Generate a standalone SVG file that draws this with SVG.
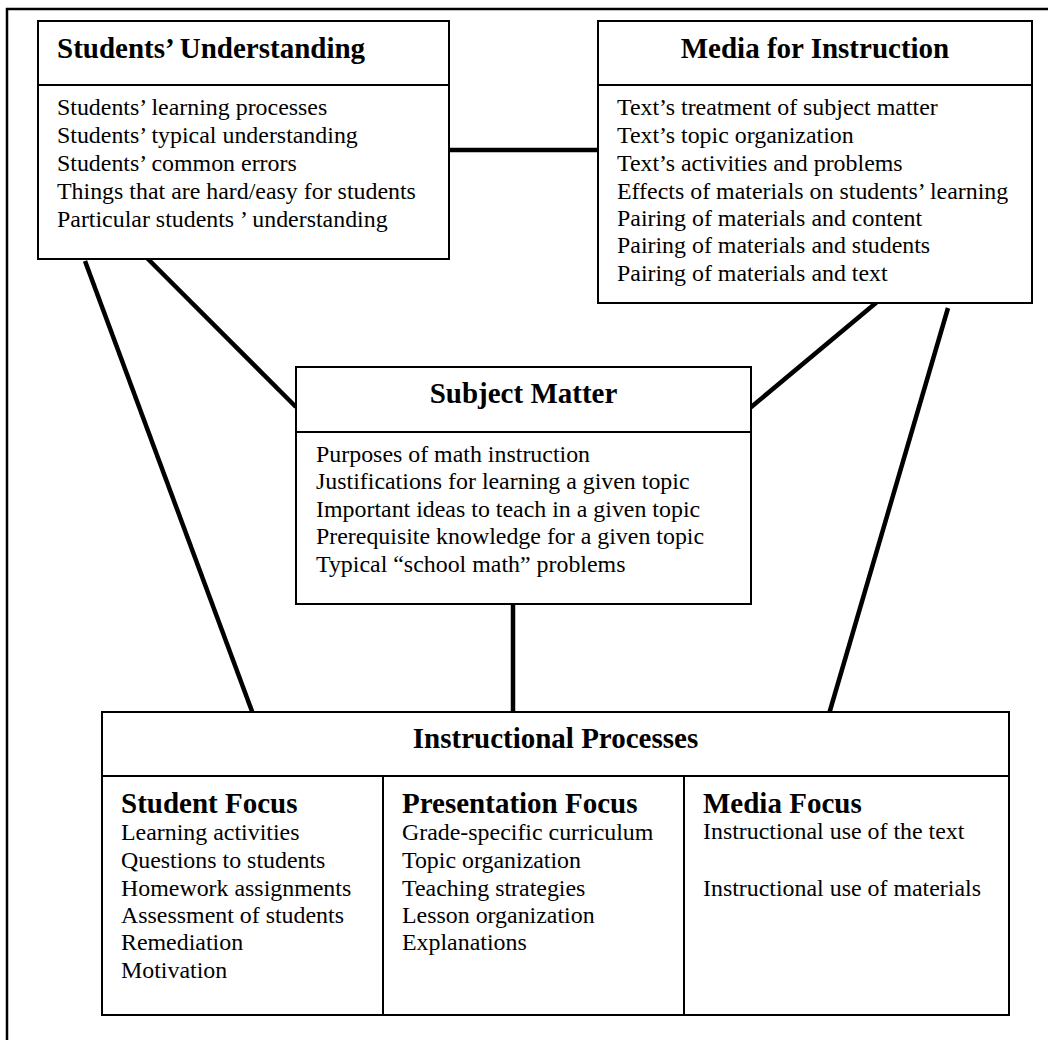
<svg xmlns="http://www.w3.org/2000/svg" width="1048" height="1040" viewBox="0 0 1048 1040">
  <style>
    .box { fill: #fff; stroke: #000; stroke-width: 2; }
    .rule { stroke: #000; stroke-width: 2; fill: none; }
    .link { stroke: #000; stroke-width: 4.5; fill: none; }
    .title { font-family: "Liberation Serif", "Times New Roman", serif; font-weight: bold; font-size: 29px; fill: #000; }
    .head { font-family: "Liberation Serif", "Times New Roman", serif; font-weight: bold; font-size: 29px; fill: #000; }
    .item { font-family: "Liberation Serif", "Times New Roman", serif; font-size: 23.9px; fill: #000; }
  </style>
  <rect width="1048" height="1040" fill="#fff"/>
  <!-- page frame (right and bottom edges run off the sheet) -->
  <rect x="7" y="9" width="1100" height="1100" fill="none" stroke="#000" stroke-width="2.5"/>

  <g id="connectors">
    <line class="link" x1="449" y1="150" x2="598" y2="150"/>
    <line class="link" x1="85" y1="261" x2="253" y2="714"/>
    <line class="link" x1="147" y1="258" x2="296" y2="407"/>
    <line class="link" x1="877" y1="302" x2="750" y2="408"/>
    <line class="link" x1="948" y1="308" x2="829" y2="714"/>
    <line class="link" x1="513" y1="604" x2="513" y2="712"/>
  </g>

  <g id="students-understanding">
    <rect class="box" x="38" y="21" width="411" height="238"/>
    <line class="rule" x1="38" y1="85" x2="449" y2="85"/>
    <text class="title" x="57" y="58">Students’ Understanding</text>
    <text class="item" x="57" y="115">Students’ learning processes</text>
    <text class="item" x="57" y="143">Students’ typical understanding</text>
    <text class="item" x="57" y="171">Students’ common errors</text>
    <text class="item" x="57" y="199">Things that are hard/easy for students</text>
    <text class="item" x="57" y="227">Particular students ’ understanding</text>
  </g>

  <g id="media-for-instruction">
    <rect class="box" x="598" y="21" width="434" height="282"/>
    <line class="rule" x1="598" y1="85" x2="1032" y2="85"/>
    <text class="title" x="815" y="58" text-anchor="middle">Media for Instruction</text>
    <text class="item" x="617" y="115">Text’s treatment of subject matter</text>
    <text class="item" x="617" y="143">Text’s topic organization</text>
    <text class="item" x="617" y="171">Text’s activities and problems</text>
    <text class="item" x="617" y="199">Effects of materials on students’ learning</text>
    <text class="item" x="617" y="226">Pairing of materials and content</text>
    <text class="item" x="617" y="253">Pairing of materials and students</text>
    <text class="item" x="617" y="281">Pairing of materials and text</text>
  </g>

  <g id="subject-matter">
    <rect class="box" x="296" y="367" width="455" height="237"/>
    <line class="rule" x1="296" y1="432" x2="751" y2="432"/>
    <text class="title" x="523.5" y="403" text-anchor="middle">Subject Matter</text>
    <text class="item" x="316" y="462">Purposes of math instruction</text>
    <text class="item" x="316" y="489">Justifications for learning a given topic</text>
    <text class="item" x="316" y="517">Important ideas to teach in a given topic</text>
    <text class="item" x="316" y="544">Prerequisite knowledge for a given topic</text>
    <text class="item" x="316" y="572">Typical “school math” problems</text>
  </g>

  <g id="instructional-processes">
    <rect class="box" x="102" y="712" width="907" height="303"/>
    <line class="rule" x1="102" y1="776" x2="1009" y2="776"/>
    <line class="rule" x1="383" y1="776" x2="383" y2="1015"/>
    <line class="rule" x1="684" y1="776" x2="684" y2="1015"/>
    <text class="title" x="555.5" y="748" text-anchor="middle">Instructional Processes</text>

    <text class="head" x="121" y="813">Student Focus</text>
    <text class="item" x="121" y="840">Learning activities</text>
    <text class="item" x="121" y="868">Questions to students</text>
    <text class="item" x="121" y="896">Homework assignments</text>
    <text class="item" x="121" y="923">Assessment of students</text>
    <text class="item" x="121" y="950">Remediation</text>
    <text class="item" x="121" y="978">Motivation</text>

    <text class="head" x="402" y="813">Presentation Focus</text>
    <text class="item" x="402" y="840">Grade-specific curriculum</text>
    <text class="item" x="402" y="868">Topic organization</text>
    <text class="item" x="402" y="896">Teaching strategies</text>
    <text class="item" x="402" y="923">Lesson organization</text>
    <text class="item" x="402" y="950">Explanations</text>

    <text class="head" x="703" y="813">Media Focus</text>
    <text class="item" x="703" y="839">Instructional use of the text</text>
    <text class="item" x="703" y="896">Instructional use of materials</text>
  </g>
</svg>
